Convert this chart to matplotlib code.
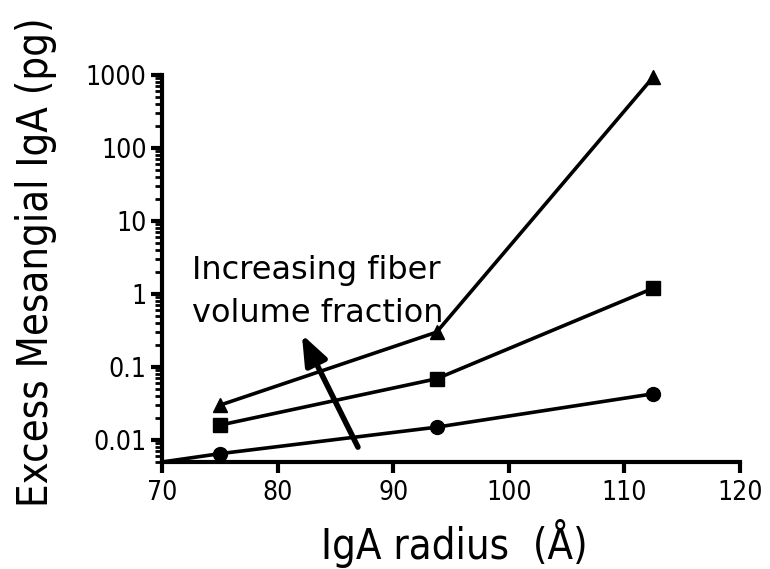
import matplotlib
matplotlib.use("Agg")
import matplotlib.pyplot as plt
from matplotlib.ticker import LogLocator, FixedLocator, NullFormatter, FixedFormatter

# Data
radius = [75, 93.75, 112.5]
low_fiber = [0.0065, 0.015, 0.043]      # circles
mid_fiber = [0.016, 0.069, 1.2]         # squares
high_fiber = [0.030, 0.30, 940]         # triangles
origin_x = 70
origin_y = 0.005

x_ticks = [70, 80, 90, 100, 110, 120]
y_ticks = [0.01, 0.1, 1, 10, 100, 1000]
y_tick_labels = ["0.01", "0.1", "1", "10", "100", "1000"]

plt.rcParams['font.family'] = ['DejaVu Sans']
plt.rcParams['font.stretch'] = 'condensed'
fig = plt.figure(figsize=(7.7, 5.69), dpi=100)
ax = fig.add_axes([162/770, 1 - 462/569, 578/770, 387/569])

lw = 2.6
ax.plot([origin_x] + radius, [origin_y] + low_fiber, color='black', lw=lw,
        marker='o', markersize=10, markevery=[1, 2, 3], clip_on=False)
ax.plot(radius, mid_fiber, color='black', lw=lw, marker='s', markersize=10.5)
ax.plot(radius, high_fiber, color='black', lw=lw, marker='^', markersize=10, clip_on=False)

ax.set_yscale('log')
ax.set_xlim(70, 120)
ax.set_ylim(0.005, 1000)

ax.xaxis.set_major_locator(FixedLocator(x_ticks))
ax.yaxis.set_major_locator(FixedLocator(y_ticks))
ax.yaxis.set_major_formatter(FixedFormatter(y_tick_labels))
ax.yaxis.set_minor_locator(LogLocator(base=10, subs=range(2, 10), numticks=20))
ax.yaxis.set_minor_formatter(NullFormatter())

for s in ['top', 'right']:
    ax.spines[s].set_visible(False)
for s in ['left', 'bottom']:
    ax.spines[s].set_linewidth(3)

ax.tick_params(axis='both', which='major', direction='out', length=8, width=3,
               labelsize=19)
ax.tick_params(axis='x', which='major', pad=5)
ax.tick_params(axis='y', which='major', pad=3)
ax.tick_params(axis='y', which='minor', direction='out', length=5, width=2)

fig.text(0.5903, 1 - 543/569, "IgA radius  (Å)", fontsize=30,
         ha='center', va='center')
fig.text(36/770, 1 - 262/569, "Excess Mesangial IgA (pg)", fontsize=30,
         ha='center', va='center', rotation=90)

ax.text(72.6, 1.60, "Increasing fiber", fontsize=23, ha='left', va='baseline',
        fontstretch='normal')
ax.text(72.6, 0.42, "volume fraction", fontsize=23, ha='left', va='baseline',
        fontstretch='normal')

ax.annotate("", xy=(82.1, 0.28), xytext=(86.95, 0.008),
            arrowprops=dict(arrowstyle='-|>,head_length=1.8,head_width=0.7',
                            mutation_scale=10, lw=4, color='black',
                            shrinkA=0, shrinkB=0))

fig.savefig("out.png", dpi=100)
